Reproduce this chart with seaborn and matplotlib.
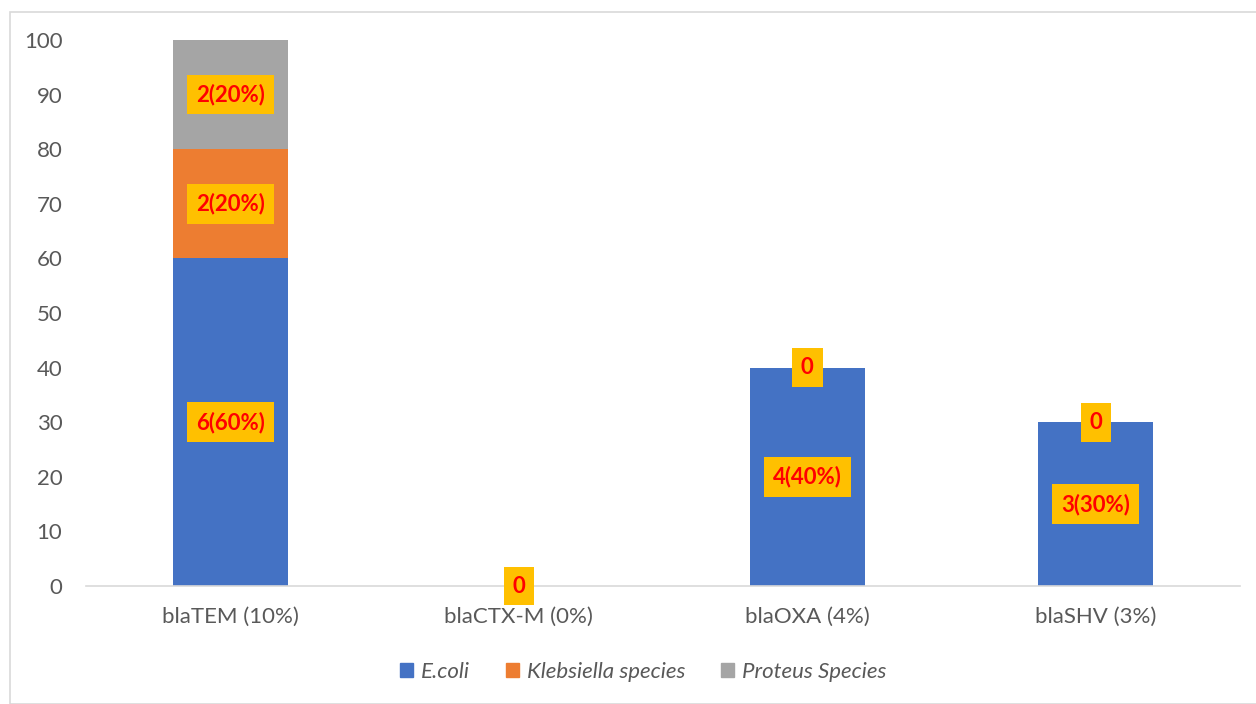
import numpy as np
import pandas as pd
import matplotlib.pyplot as plt
import seaborn as sns
from matplotlib.patches import Rectangle, Patch

# chart data
genes = ["blaTEM (10%)", "blaCTX-M (0%)", "blaOXA (4%)", "blaSHV (3%)"]
ecoli = [60, 0, 40, 30]
klebsiella = [20, 0, 0, 0]
proteus = [20, 0, 0, 0]
ecoli_labels = ["6(60%)", "0", "4(40%)", "3(30%)"]
kleb_labels = ["2(20%)", "0", "0", "0"]
proteus_labels = ["2(20%)", "0", "", ""]
species = ["E.coli", "Klebsiella species", "Proteus Species"]
colors = ["#4472C4", "#ED7D31", "#A5A5A5"]

sns.set_style("white")
plt.rcParams['font.family'] = ['Lato', 'DejaVu Sans']

df = pd.DataFrame({"Gene": genes, "E.coli": ecoli,
                   "Klebsiella": klebsiella, "Proteus": proteus})
df["lvl1"] = df["E.coli"]
df["lvl2"] = df["lvl1"] + df["Klebsiella"]
df["lvl3"] = df["lvl2"] + df["Proteus"]

fig = plt.figure(figsize=(12.56, 7.04), dpi=100)
ax = fig.add_axes([0.0685, 0.1676, 0.9188, 0.7756])

# stacked bars drawn from the top layer down
for col, c in zip(["lvl3", "lvl2", "lvl1"], colors[::-1]):
    sns.barplot(data=df, x="Gene", y=col, color=c, width=0.4,
                saturation=1, ax=ax, edgecolor="none")

# data labels
def put_label(x, y, txt):
    if txt == "":
        return
    ax.text(x, y, txt, ha="center", va="center", color="#FF0000",
            fontsize=16, fontweight="bold",
            bbox=dict(boxstyle="square,pad=0.4", fc="#FFC000", ec="none"))

for i in range(len(genes)):
    b1 = 0
    put_label(i, b1 + ecoli[i] / 2, ecoli_labels[i])
    b2 = ecoli[i]
    put_label(i, b2 + klebsiella[i] / 2, kleb_labels[i])
    b3 = b2 + klebsiella[i]
    put_label(i, b3 + proteus[i] / 2, proteus_labels[i])

ax.set_ylim(0, 100)
ax.set_xlim(-0.5, 3.5)
ax.set_yticks(np.arange(0, 101, 10))
ax.set_xlabel("")
ax.set_ylabel("")
ax.tick_params(axis="both", colors="#595959", labelsize=16, length=0)
ax.tick_params(axis="x", pad=15)
ax.tick_params(axis="y", pad=17)
for s in ["top", "right", "left"]:
    ax.spines[s].set_visible(False)
ax.spines["bottom"].set_color("#D9D9D9")
ax.spines["bottom"].set_linewidth(1.2)

handles = [Patch(color=c, label=s) for c, s in zip(colors, species)]
leg = fig.legend(handles=handles, loc="center", bbox_to_anchor=(0.512, 0.046),
                 ncol=3, frameon=False, handlelength=0.6, handleheight=0.6,
                 columnspacing=1.6, handletextpad=0.35,
                 prop={"style": "italic", "size": 16})
for t in leg.get_texts():
    t.set_color("#595959")

# chart-area border
fig.patches.append(Rectangle((10 / 1256, 0.0), 1.0, 1 - 12 / 704,
                             transform=fig.transFigure, fill=False,
                             ec="#D9D9D9", lw=1.2))

fig.savefig("out.png", dpi=100)
